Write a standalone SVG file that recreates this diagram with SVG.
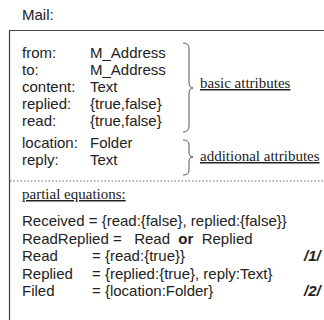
<svg xmlns="http://www.w3.org/2000/svg" width="324" height="320" viewBox="0 0 324 320">
<style>
.s{font-family:"Liberation Sans",Arial,sans-serif;font-size:15px;fill:#222}
.t{font-family:"Liberation Serif","Times New Roman",serif;font-size:15px;fill:#222;text-decoration:underline}
.ln{stroke:#444;stroke-width:1.2;fill:none}
.br{stroke:#555;stroke-width:1;fill:none}
</style>
<rect width="324" height="320" fill="#fff"/>
<text class="s" x="22" y="20">Mail:</text>
<g id="frame">
<path class="ln" d="M9.5,320 V30.5 H324"/>
<line x1="10" y1="181" x2="324" y2="181" stroke="#666" stroke-width="1" stroke-dasharray="1.5,2"/>
</g>
<g id="basic">
<text class="s" x="22" y="58">from:</text><text class="s" x="90" y="58">M_Address</text>
<text class="s" x="22" y="75">to:</text><text class="s" x="90" y="75">M_Address</text>
<text class="s" x="22" y="92">content:</text><text class="s" x="90" y="92">Text</text>
<text class="s" x="22" y="109">replied:</text><text class="s" x="90" y="109">{true,false}</text>
<text class="s" x="22" y="126">read:</text><text class="s" x="90" y="126">{true,false}</text>
<path class="br" d="M183,43 Q189,43 189,49 V82 Q189,88 193,88 Q189,88 189,94 V126 Q189,132 183,132"/>
<text class="t" x="200" y="88">basic attributes</text>
</g>
<g id="additional">
<text class="s" x="22" y="148">location:</text><text class="s" x="90" y="148">Folder</text>
<text class="s" x="22" y="165">reply:</text><text class="s" x="90" y="165">Text</text>
<path class="br" d="M183,140 Q189,140 189,145 V152 Q189,157 193,157 Q189,157 189,162 V170 Q189,175 183,175"/>
<text class="t" x="200" y="161">additional attributes</text>
</g>
<g id="equations">
<text class="t" x="22" y="199">partial equations:</text>
<text class="s" x="22" y="226">Received = {read:{false}, replied:{false}}</text>
<text class="s" x="22" y="244" xml:space="preserve">ReadReplied =   Read  <tspan font-weight="bold">or</tspan>  Replied</text>
<text class="s" x="22" y="261">Read</text><text class="s" x="92" y="261">= {read:{true}}</text>
<text class="s" x="22" y="279">Replied</text><text class="s" x="92" y="279">= {replied:{true}, reply:Text}</text>
<text class="s" x="22" y="296">Filed</text><text class="s" x="92" y="296">= {location:Folder}</text>
<text class="s" x="304" y="261" font-weight="bold" font-style="italic">/1/</text>
<text class="s" x="304" y="296" font-weight="bold" font-style="italic">/2/</text>
</g>
</svg>
